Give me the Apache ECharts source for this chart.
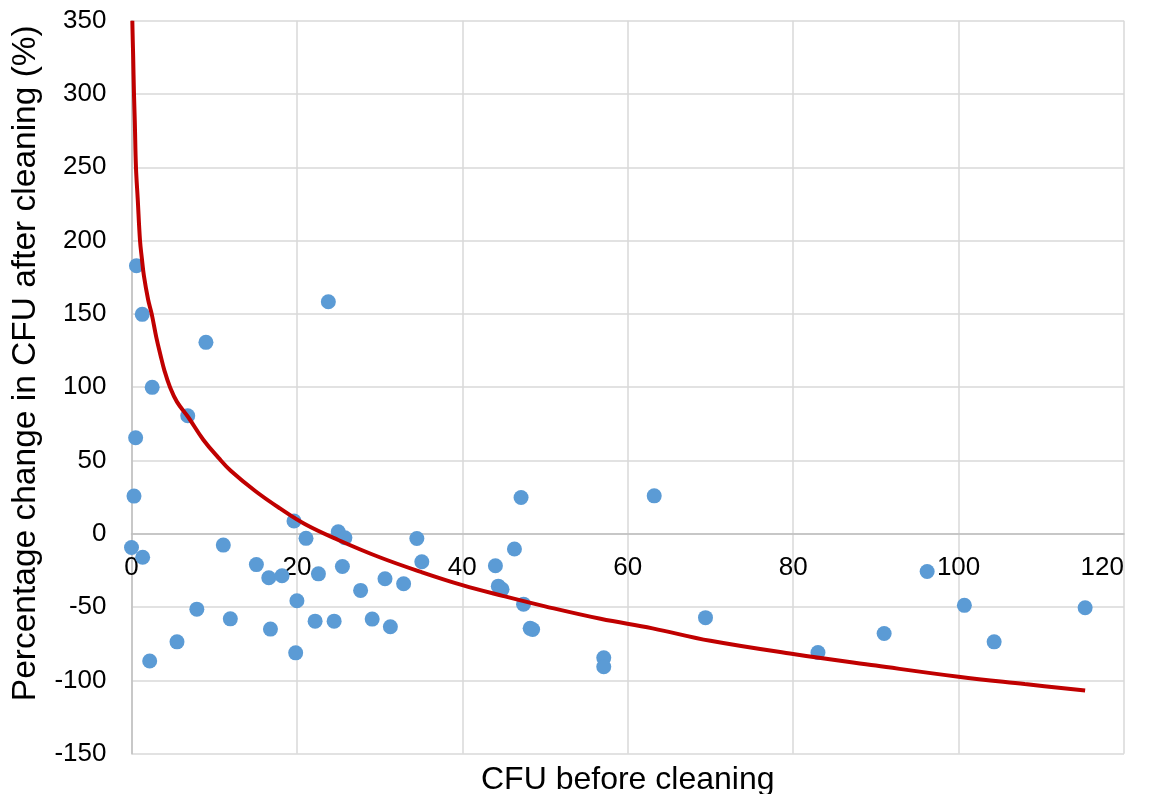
<!DOCTYPE html>
<html>
<head>
<meta charset="utf-8">
<script src="https://cdn.jsdelivr.net/npm/echarts@6/dist/echarts.min.js"></script>
<style>
  html, body { margin: 0; padding: 0; background: #fff; }
  #chart { width: 1157px; height: 794px; }
</style>
</head>
<body>
<div id="chart"></div>
<script>
// measured points
const cfuBefore = [0.0, 0.3, 0.5, 0.6, 1.3, 1.35, 2.2, 2.5, 5.5, 6.8, 7.9, 9.0, 11.1, 11.95, 15.1, 16.6, 16.8, 18.2,
  19.65, 19.85, 20.0, 21.1, 22.2, 22.6, 23.8, 24.5, 25.0, 25.5, 25.8, 27.7, 29.1, 30.65, 31.3, 32.9, 34.5, 35.1,
  44.0, 44.35, 44.8, 46.3, 47.1, 47.4, 48.2, 48.5, 57.1, 57.1, 63.2, 69.4, 83.0, 91.0, 96.2, 100.7, 104.3, 115.3];
const pctChange = [-9.3, 25.7, 65.5, 182.8, 149.7, -16, -86.8, 99.9, -73.7, 80.5, -51.4, 130.6, -7.7, -58, -21, -30, -65, -28.6,
  8.7, -81.2, -45.7, -3.1, -59.6, -27.3, 158.3, -59.6, 1.4, -22.3, -2.7, -38.6, -58.2, -30.7, -63.4, -34.1, -3.2, -19.1,
  -21.8, -35.7, -37.9, -10.4, 24.8, -48, -64.5, -65.3, -84.6, -90.7, 25.9, -57.2, -81.0, -68.0, -25.7, -48.8, -73.7, -50.4];

// trend line
const trendX = [0.1, 0.15, 0.2, 0.3, 0.4, 0.54, 0.75, 1.03, 1.25, 1.5, 2.0, 2.44, 3.0, 3.5, 4.0, 4.66, 5.5, 6.87, 8.7, 10.5, 12,
  15, 17.95, 21, 25, 30, 35, 40, 45, 50, 56.7, 63, 70, 80, 90, 100, 108, 115.3];
const trendY = [350, 337, 326, 300, 281, 250, 228.6, 200, 188, 176, 160, 150, 134, 122, 111, 100, 90, 79.5, 64, 52, 43,
  29, 17.3, 6.5, -4.2, -16, -26, -35, -42.5, -49.5, -58, -64.5, -73, -82, -89.9, -97.5, -102.5, -106.9];

const font = 'Liberation Sans, Arial, sans-serif';

const myChart = echarts.init(document.getElementById('chart'));
const option = {
  animation: false,
  grid: {left: 131.5, right: 33, top: 20.7, bottom: 40.3, containLabel: false, outerBoundsMode: 'none'},
  xAxis: {
    type: 'value',
    min: 0,
    max: 120,
    interval: 20,
    position: 'bottom',
    offset: -220, // x axis crosses at y = 0
    name: 'CFU before cleaning',
    nameLocation: 'middle',
    nameGap: 230,
    nameTextStyle: {fontFamily: font, fontSize: 32, color: '#000'},
    axisLine: {show: true, onZero: false, lineStyle: {color: '#BFBFBF', width: 1.5}},
    axisTick: {show: false},
    axisLabel: {fontFamily: font, fontSize: 26, color: '#000', margin: 21, alignMaxLabel: 'right'},
    splitLine: {show: true, lineStyle: {color: '#D9D9D9', width: 1.5}}
  },
  yAxis: {
    type: 'value',
    min: -150,
    max: 350,
    interval: 50,
    name: 'Percentage change in CFU after cleaning (%)',
    nameLocation: 'middle',
    nameGap: 89,
    nameTextStyle: {fontFamily: font, fontSize: 33.5, color: '#000', padding: [0, 0, 0, 48]},
    axisLine: {show: true, onZero: false, lineStyle: {color: '#BFBFBF', width: 1.5}},
    axisTick: {show: false},
    axisLabel: {fontFamily: font, fontSize: 26, color: '#000', margin: 25},
    splitLine: {show: true, lineStyle: {color: '#D9D9D9', width: 1.5}}
  },
  series: [
    {
      type: 'scatter',
      data: cfuBefore.map((x, i) => [x, pctChange[i]]),
      symbolSize: 15,
      itemStyle: {color: '#5B9BD5', opacity: 1},
      z: 2
    },
    {
      type: 'line',
      data: trendX.map((x, i) => [x, trendY[i]]),
      smooth: 0.4,
      showSymbol: false,
      lineStyle: {color: '#C00000', width: 4},
      z: 3
    }
  ]
};

myChart.setOption(option);
</script>
</body>
</html>
